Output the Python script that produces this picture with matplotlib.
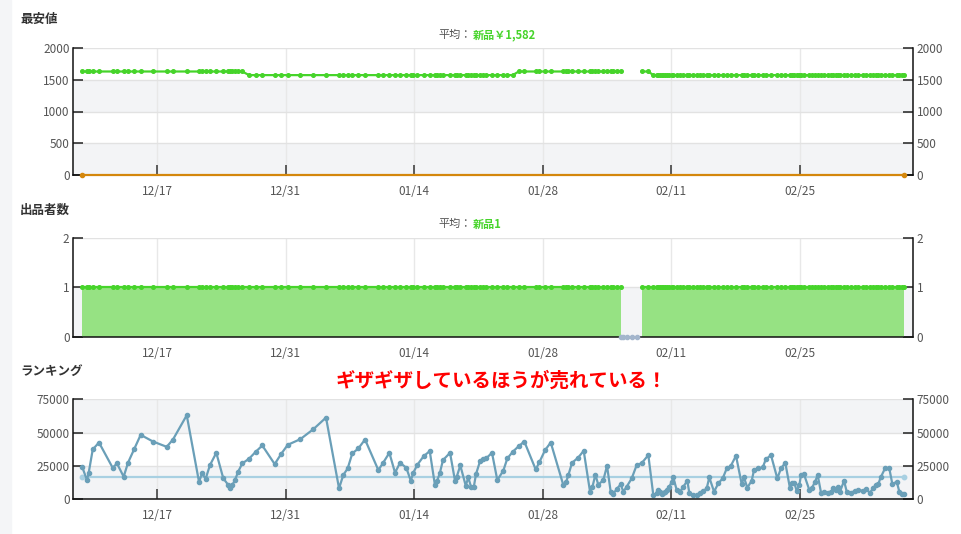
import matplotlib
matplotlib.use("Agg")
import matplotlib.pyplot as plt
import numpy as np
from matplotlib.patches import Rectangle

plt.rcParams['font.family'] = ['Noto Sans CJK JP', 'DejaVu Sans']

# x values are days counted from 12/17
date_ticks = [0, 14, 28, 42, 56, 70]
date_labels = ['12/17', '12/31', '01/14', '01/28', '02/11', '02/25']

rank_days = [-8.14, -7.63, -7.44, -7.00, -6.32, -4.83, -4.36, -3.63, -3.16, -2.47,
             -1.78, -0.44, 1.06, 1.74, 3.24, 4.58, 4.90, 5.30, 5.77, 6.46,
             7.22, 7.77, 7.95, 8.20, 8.50, 8.82, 9.29, 10.02, 10.75, 11.47,
             12.82, 13.51, 14.24, 15.61, 17.03, 18.41, 19.83, 20.29, 20.77, 21.27,
             21.93, 22.66, 24.11, 24.59, 25.31, 25.93, 26.47, 27.16, 27.64, 27.92,
             28.36, 29.05, 29.71, 30.28, 30.50, 30.80, 31.15, 31.92, 32.46, 32.65,
             33.04, 33.63, 33.91, 34.20, 34.50, 34.75, 35.19, 35.54, 35.84, 36.49,
             37.07, 37.72, 38.16, 38.75, 39.40, 40.01, 41.25, 41.64, 42.27, 42.89,
             44.26, 44.55, 44.80, 45.21, 45.86, 46.48, 47.17, 47.42, 47.75, 48.07,
             48.62, 49.02, 49.42, 49.71, 50.08, 50.50, 50.80, 51.16, 51.71, 52.25,
             52.80, 53.52, 54.06, 54.43, 54.61, 54.79, 54.98, 55.15, 55.34, 55.59,
             55.81, 56.07, 56.24, 56.61, 56.97, 57.33, 57.77, 57.99, 58.42, 58.79,
             59.15, 59.51, 59.88, 60.16, 60.68, 61.14, 61.62, 62.06, 62.49, 63.07,
             63.69, 63.94, 64.30, 64.78, 65.03, 65.50, 65.98, 66.31, 66.88, 67.57,
             67.97, 68.44, 68.95, 69.17, 69.42, 69.68, 69.97, 70.15, 70.48, 71.06,
             71.32, 71.68, 71.97, 72.33, 72.69, 73.06, 73.42, 73.67, 73.97, 74.22,
             74.40, 74.84, 75.13, 75.57, 76.03, 76.39, 76.87, 77.23, 77.67, 78.03,
             78.32, 78.57, 78.83, 79.30, 79.77, 80.10, 80.58, 80.86, 81.12, 81.40]
rank_values = [24000, 14250, 19700, 37250, 42500, 23500, 26750, 16750, 27250, 37750,
               48250, 43250, 39250, 44750, 63000, 12750, 19250, 15250, 25500, 34750,
               15500, 10500, 8000, 10500, 14250, 20250, 26750, 30250, 35500, 40250,
               26250, 33750, 40750, 45000, 52500, 61250, 8000, 18000, 23000, 34250,
               38000, 44750, 21750, 26750, 34750, 19750, 27250, 23500, 13750, 19750,
               25750, 32250, 36000, 10250, 13500, 19250, 29250, 34750, 13750, 16750,
               25250, 10000, 16250, 9250, 8750, 18750, 28500, 29750, 30500, 34750,
               14250, 21250, 30500, 35500, 39750, 43250, 22250, 27500, 36750, 42500,
               10500, 12500, 17750, 27250, 31000, 36250, 5500, 8750, 18250, 10750,
               14250, 25000, 5500, 4000, 7500, 11000, 5500, 9250, 15500, 25500,
               27000, 33000, 3000, 4250, 6750, 5500, 3750, 4750, 5500, 6750,
               9250, 13000, 16250, 6750, 5500, 9250, 13750, 4250, 3000, 3000,
               4250, 6000, 8000, 16250, 5500, 11750, 15500, 23000, 24750, 32500,
               11250, 16250, 8500, 13750, 21750, 23000, 23750, 29750, 33000, 15500,
               23000, 27250, 8000, 11750, 12250, 6000, 10500, 18000, 18500, 6750,
               8000, 13000, 18000, 4750, 5500, 4750, 5500, 8000, 6750, 8750,
               5500, 13750, 5500, 4750, 6000, 6750, 6250, 7250, 4750, 8500,
               10500, 11250, 16250, 23000, 23000, 11250, 13000, 5500, 3500, 3750]
rank_avg = 16300

# price / seller history as change points
price_change_days = [-8.2, 9.6, 39.1, 53.8]
price_change_values = [1630, 1573, 1630, 1573]
seller_change_days = [-8.2, 50.6, 52.5]
seller_change_values = [1, 0, 1]
used_price = 0
price_avg_label = '新品￥1,582'
seller_avg_label = '新品1'

GREEN = '#46d42a'
FILL = '#96e283'
ORANGE = '#d4870c'
RANK = '#6a9fb8'
AVG = '#a8d0e2'
ZERO = '#a3b5cc'
BAND = '#f3f4f6'

t = np.array(rank_days)
seller = np.array(seller_change_values)[np.searchsorted(seller_change_days, t, side='right') - 1]
price = np.array(price_change_values)[np.searchsorted(price_change_days, t, side='right') - 1]
on = seller > 0
segs = np.split(np.where(on)[0], np.where(np.diff(np.where(on)[0]) > 1)[0] + 1)

W, H = 962, 534
fig = plt.figure(figsize=(W / 100, H / 100), dpi=100)
fig.patches.append(Rectangle((0, 0), 11 / W, 1, transform=fig.transFigure,
                             color='#f4f5f7', zorder=0))


def make_ax(top, bottom, yticks, bands):
    ax = fig.add_axes([73 / W, 1 - bottom / H, 840 / W, (bottom - top) / H])
    ax.set_xlim(-9.15, 82.35)
    ax.set_ylim(yticks[0], yticks[-1])
    ax.set_axisbelow(True)
    for lo, hi in bands:
        ax.axhspan(lo, hi, color=BAND, zorder=0, lw=0)
    ax.set_xticks(date_ticks)
    ax.set_xticklabels(date_labels)
    ax.set_yticks(yticks)
    ax.set_yticklabels([str(v) for v in yticks])
    ax.grid(axis='x', color='#e8e8e8', lw=1)
    ax.grid(axis='y', color='#e2e2e2', lw=1)
    ax.spines['top'].set_visible(False)
    for s in ['left', 'right', 'bottom']:
        ax.spines[s].set_color('#111111')
        ax.spines[s].set_linewidth(1.1)
        ax.spines[s].set_zorder(5)
    ax.tick_params(axis='x', direction='in', length=7, width=1.1, color='#333333',
                   pad=7, labelsize=8.5, labelcolor='#555555')
    ax.tick_params(axis='y', direction='in', length=7, width=1.1, color='#222222',
                   left=True, right=True, labelleft=True, labelright=True,
                   pad=2.5, labelsize=8.5, labelcolor='#555555')
    for tk in ax.yaxis.get_major_ticks()[1:-1]:
        tk.tick1line.set_color('#888888')
        tk.tick2line.set_color('#888888')
    return ax


# 最安値
ax1 = make_ax(48, 175, [0, 500, 1000, 1500, 2000], [(0, 500), (1000, 1500)])
for seg in segs:
    ax1.plot(t[seg], price[seg], color=GREEN, lw=1.6, marker='o', ms=2.6, zorder=3)
ax1.plot([t[0], t[-1]], [used_price, used_price], color=ORANGE, lw=1.6,
         marker='o', ms=3, zorder=6, clip_on=False)

# 出品者数
ax2 = make_ax(237.7, 337, [0, 1, 2], [(0, 1)])
for seg in segs:
    ax2.fill_between(t[seg], 0, seller[seg], color=FILL, lw=0, zorder=1)
    ax2.plot(t[seg], seller[seg], color=GREEN, lw=1.6, marker='o', ms=2.6, zorder=3)
off = np.where(~on)[0]
ax2.plot(np.r_[t[off[0] - 1], t[off]], np.r_[0, seller[off]], color=ZERO, lw=2,
         marker='o', ms=3, zorder=6, clip_on=False)

# ランキング
ax3 = make_ax(399.3, 499, [0, 25000, 50000, 75000], [(0, 25000), (50000, 75000)])
ax3.plot([t[0], t[-1]], [rank_avg, rank_avg], color=AVG, lw=1.6, marker='o', ms=3.2, zorder=2)
ax3.plot(t, rank_values, color=RANK, lw=1.6, marker='o', ms=3, zorder=3)

# titles
for label, y in [('最安値', 19), ('出品者数', 210), ('ランキング', 371)]:
    fig.text(20 / W, 1 - y / H, label, fontsize=9, fontweight='bold', color='#333333',
             ha='left', va='center')
for y, green in [(35, price_avg_label), (224, seller_avg_label)]:
    fig.text(472 / W, 1 - y / H, '平均：', fontsize=8, color='#555555', ha='right', va='center')
    fig.text(473 / W, 1 - y / H, green, fontsize=8, color=GREEN, fontweight='bold',
             ha='left', va='center')
fig.text(501 / W, 1 - 381 / H, 'ギザギザしているほうが売れている！', fontsize=14,
         fontweight='bold', color='#ff0000', ha='center', va='center')

fig.savefig('out.png', dpi=100)
